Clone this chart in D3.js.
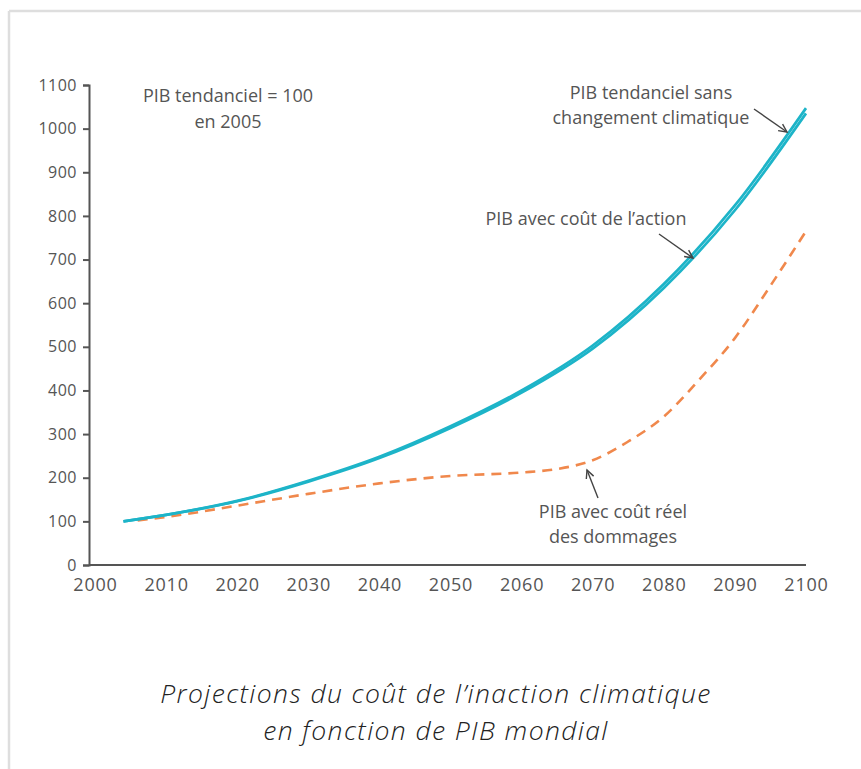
<!DOCTYPE html>
<html>
<head>
<meta charset="utf-8">
<script src="https://cdn.jsdelivr.net/npm/d3@7"></script>
<style>
  html, body { margin: 0; padding: 0; background: #fff; }
  svg { display: block; }
  text { font-family: "Open Sans", "DejaVu Sans", sans-serif; }
</style>
</head>
<body>
<svg id="chart" width="861" height="769"></svg>
<script>
// ---- Data ----
const yearsPIB = [2004, 2010, 2020, 2030, 2040, 2050, 2060, 2070, 2080, 2090, 2100];
const pibTendanciel = [100, 115, 147, 193, 248, 318, 400, 503, 644, 824, 1047];
const pibAction     = [100, 115, 146, 191, 245, 314, 395, 496, 635, 813, 1035];

const yearsDommages = [2006, 2010, 2020, 2030, 2040, 2050, 2060, 2065, 2070, 2075, 2080, 2085, 2090, 2095, 2100];
const pibDommages   = [102, 110, 136, 163, 187, 204, 212, 220, 240, 283, 340, 425, 520, 640, 765];

const xTickLabels = [2000, 2010, 2020, 2030, 2040, 2050, 2060, 2070, 2080, 2090, 2100];
const yTickLabels = [0, 100, 200, 300, 400, 500, 600, 700, 800, 900, 1000, 1100];

const captionLines = ["Projections du coût de l’inaction climatique", "en fonction de PIB mondial"];

// ---- Layout ----
const svg = d3.select("#chart");
const axisX0 = 89;
const x = d3.scaleLinear().domain([2000, 2100]).range([95, 806]);
const y = d3.scaleLinear().domain([0, 1100]).range([565, 85]);

// frame
svg.append("line").attr("x1", 9).attr("x2", 861).attr("y1", 11).attr("y2", 11)
  .attr("stroke", "#dedede").attr("stroke-width", 2.5);
svg.append("line").attr("x1", 9).attr("x2", 9).attr("y1", 11).attr("y2", 769)
  .attr("stroke", "#dedede").attr("stroke-width", 2.5);

const axisColor = "#555";
const textColor = "#555";

// Y axis
const yAxis = d3.axisLeft(y).tickValues(yTickLabels).tickFormat(d3.format("d"))
  .tickSize(6).tickSizeOuter(6).tickPadding(6);
const gy = svg.append("g").attr("transform", `translate(${axisX0},0)`).call(yAxis);
gy.attr("font-family", null);
gy.select(".domain").attr("stroke", axisColor).attr("stroke-width", 2);
gy.selectAll(".tick line").attr("stroke", axisColor).attr("stroke-width", 2);
gy.selectAll(".tick text").attr("fill", textColor).style("font-size", "16px")
  .style("letter-spacing", "0.5px");

// X axis (labels only, line drawn from the y axis)
const xAxis = d3.axisBottom(x).tickValues(xTickLabels).tickFormat(d3.format("d")).tickSize(0).tickPadding(13);
const gx = svg.append("g").attr("transform", `translate(0,${y(0)})`).call(xAxis);
gx.attr("font-family", null);
gx.select(".domain").remove();
gx.selectAll(".tick text").attr("fill", textColor).style("font-size", "18px").style("letter-spacing", "0.8px");
svg.append("line").attr("x1", axisX0).attr("x2", x(2100)).attr("y1", y(0)).attr("y2", y(0))
  .attr("stroke", axisColor).attr("stroke-width", 2);

// Lines
const line = d3.line().x(d => x(d[0])).y(d => y(d[1])).curve(d3.curveMonotoneX);

svg.append("path")
  .datum(yearsDommages.map((yr, i) => [yr, pibDommages[i]]))
  .attr("d", line).attr("fill", "none")
  .attr("stroke", "#f0884c").attr("stroke-width", 2.6)
  .attr("stroke-dasharray", "10,7");

const cyan = "#1db4c8";
svg.append("path")
  .datum(yearsPIB.map((yr, i) => [yr, pibAction[i]]))
  .attr("d", line).attr("fill", "none")
  .attr("stroke", cyan).attr("stroke-width", 2.7);
svg.append("path")
  .datum(yearsPIB.map((yr, i) => [yr, pibTendanciel[i]]))
  .attr("d", line).attr("fill", "none")
  .attr("stroke", cyan).attr("stroke-width", 2.7);

// Annotations
const ann = svg.append("g").attr("fill", textColor).style("font-size", "18px");
function label(lines, cx, baseline, lh) {
  lines.forEach((t, i) => ann.append("text").attr("x", cx).attr("y", baseline + i * lh)
    .attr("text-anchor", "middle").text(t));
}
label(["PIB tendanciel = 100", "en 2005"], 228, 102, 26);
label(["PIB tendanciel sans", "changement climatique"], 651, 99, 25);
label(["PIB avec coût de l’action"], 586, 225, 24);
label(["PIB avec coût réel", "des dommages"], 613, 518, 25);

function arrow(x1, y1, x2, y2) {
  const g = svg.append("g").attr("stroke", "#444").attr("stroke-width", 1.4).attr("fill", "none");
  g.append("line").attr("x1", x1).attr("y1", y1).attr("x2", x2).attr("y2", y2);
  const a = Math.atan2(y2 - y1, x2 - x1), L = 9, s = 0.45;
  const p1 = [x2 - L * Math.cos(a - s), y2 - L * Math.sin(a - s)];
  const p2 = [x2 - L * Math.cos(a + s), y2 - L * Math.sin(a + s)];
  g.append("path").attr("d", `M${p1[0]},${p1[1]}L${x2},${y2}L${p2[0]},${p2[1]}`);
}
arrow(754, 109, 787, 132);
arrow(659, 234, 693, 258);
arrow(598, 498, 587, 470);

// Caption
captionLines.forEach((t, i) => svg.append("text")
  .attr("x", 436).attr("y", 703 + i * 36.5)
  .attr("text-anchor", "middle")
  .attr("fill", "#222")
  .style("font-size", "26.5px").style("font-style", "italic").style("font-weight", 300)
  .style("letter-spacing", "1.4px")
  .text(t));
</script>
</body>
</html>
